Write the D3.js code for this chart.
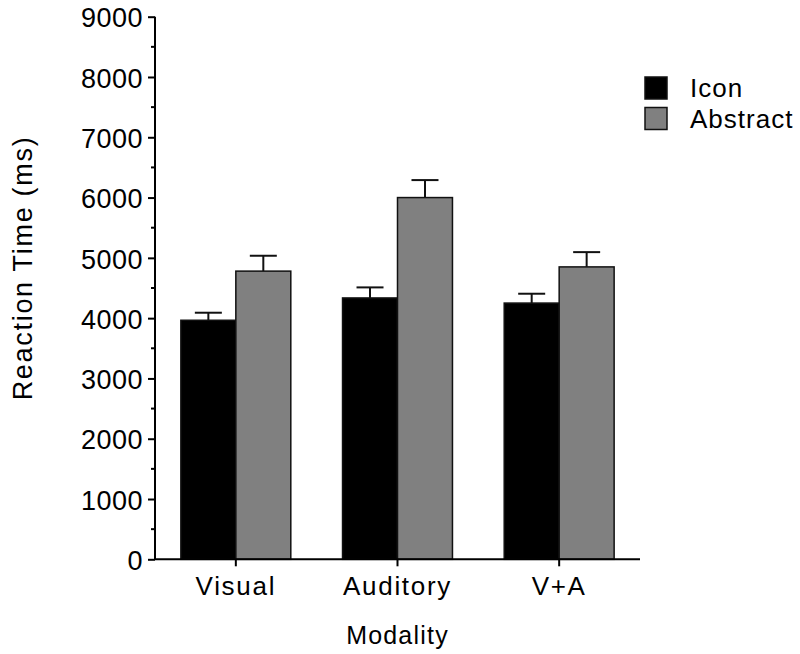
<!DOCTYPE html>
<html>
<head>
<meta charset="utf-8">
<script src="https://cdn.jsdelivr.net/npm/d3@7"></script>
<style>
  body { margin: 0; background: #fff; }
  text { font-family: "Liberation Sans", Arial, Helvetica, sans-serif; fill: #000; }
</style>
</head>
<body>
<svg id="chart" width="800" height="654"></svg>
<script>
const categories = ["Visual", "Auditory", "V+A"];
const seriesNames = ["Icon", "Abstract"];
const iconValues = [3965, 4335, 4250];
const abstractValues = [4780, 6000, 4850];
const iconErrors = [125, 175, 155];
const abstractErrors = [255, 290, 245];
const yTicks = [0, 1000, 2000, 3000, 4000, 5000, 6000, 7000, 8000, 9000];
const colors = ["#000000", "#808080"];

const svg = d3.select("#chart");
const margin = { left: 155, right: 160, top: 16.7, bottom: 94.7 };
const W = 800, H = 654;

const x = d3.scaleBand().domain(categories)
  .range([margin.left, W - margin.right])
  .paddingInner(0.32).paddingOuter(0.16);
const xs = d3.scaleBand().domain(seriesNames).range([0, x.bandwidth()]);
const y = d3.scaleLinear().domain([0, 9000]).range([H - margin.bottom, margin.top]);

const data = categories.map((c, i) => ({
  cat: c,
  vals: [
    { s: "Icon", v: iconValues[i], e: iconErrors[i], color: colors[0] },
    { s: "Abstract", v: abstractValues[i], e: abstractErrors[i], color: colors[1] }
  ]
}));

const groups = svg.append("g").selectAll("g").data(data).join("g")
  .attr("transform", d => `translate(${x(d.cat)},0)`);

groups.each(function(d) {
  const g = d3.select(this);
  d.vals.forEach(b => {
    const cx = xs(b.s) + xs.bandwidth() / 2;
    g.append("line").attr("x1", cx).attr("x2", cx)
      .attr("y1", y(b.v)).attr("y2", y(b.v + b.e))
      .attr("stroke", "#111").attr("stroke-width", 2);
    g.append("line").attr("x1", cx - 13.5).attr("x2", cx + 13.5)
      .attr("y1", y(b.v + b.e)).attr("y2", y(b.v + b.e))
      .attr("stroke", "#111").attr("stroke-width", 2);
  });
  g.selectAll("rect").data(d.vals).join("rect")
    .attr("x", b => xs(b.s))
    .attr("width", xs.bandwidth())
    .attr("y", b => y(b.v))
    .attr("height", b => y(0) - y(b.v))
    .attr("fill", b => b.color)
    .attr("stroke", "#111")
    .attr("stroke-width", 1.5);
});

// y axis
const yAxis = d3.axisLeft(y).tickValues(yTicks).tickSize(7).tickPadding(5)
  .tickFormat(d3.format("d"));
const yg = svg.append("g").attr("transform", `translate(${margin.left},0)`).call(yAxis);
yg.select(".domain").attr("stroke", "#000").attr("stroke-width", 2)
  .attr("d", `M0,${y(9000)}V${y(0)}`);
yg.selectAll(".tick line").attr("stroke", "#000").attr("stroke-width", 2);
yg.selectAll(".tick text").attr("font-size", 27).attr("letter-spacing", 0.5).attr("dy", "0.38em")
  .style("font-family", '"Liberation Sans", Arial, sans-serif');
const minor = d3.range(500, 9000, 1000);
yg.selectAll(".minor").data(minor).join("line").attr("class", "minor")
  .attr("x1", -4).attr("x2", 0).attr("y1", d => y(d)).attr("y2", d => y(d))
  .attr("stroke", "#000").attr("stroke-width", 2);

// x axis
const xAxis = d3.axisBottom(x).tickSize(7).tickPadding(10);
const xg = svg.append("g").attr("transform", `translate(0,${y(0)})`).call(xAxis);
xg.select(".domain").attr("stroke", "#000").attr("stroke-width", 2)
  .attr("d", `M${margin.left},0H${W - margin.right}`);
xg.selectAll(".tick line").attr("stroke", "#000").attr("stroke-width", 2);
xg.selectAll(".tick text").attr("font-size", 26).attr("letter-spacing", 1.7)
  .style("font-family", '"Liberation Sans", Arial, sans-serif');

// axis titles
svg.append("text").attr("x", (margin.left + W - margin.right) / 2).attr("y", 644)
  .attr("text-anchor", "middle").attr("font-size", 25).attr("letter-spacing", 1.2)
  .text("Modality");
svg.append("text").attr("transform", `translate(32,268) rotate(-90)`)
  .attr("text-anchor", "middle").attr("font-size", 27).attr("letter-spacing", 1.7)
  .text("Reaction Time (ms)");

// legend
const leg = svg.append("g").attr("transform", "translate(645,77)");
seriesNames.forEach((s, i) => {
  leg.append("rect").attr("x", 0).attr("y", i * 30.5).attr("width", 22).attr("height", 22)
    .attr("fill", colors[i]).attr("stroke", "#111").attr("stroke-width", 1.5);
  leg.append("text").attr("x", 45).attr("y", i * 30.5 + 20).attr("font-size", 26)
    .attr("letter-spacing", 1).text(s);
});
</script>
</body>
</html>
